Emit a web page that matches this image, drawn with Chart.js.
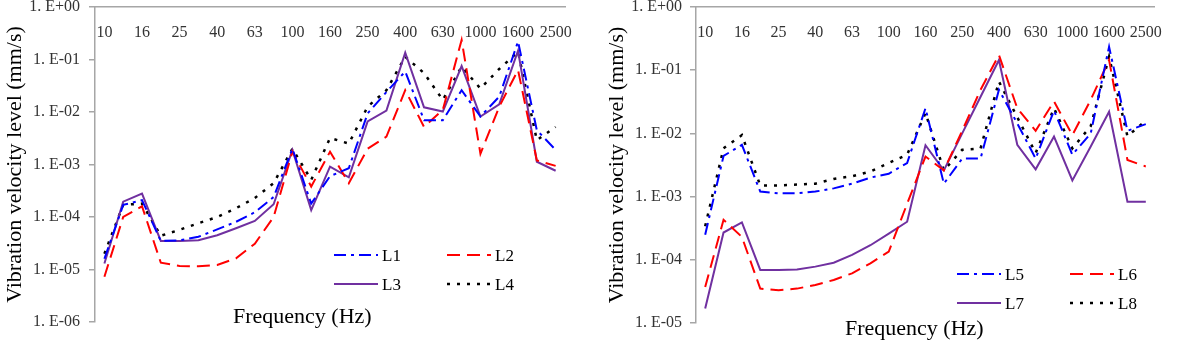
<!DOCTYPE html>
<html><head><meta charset="utf-8">
<script src="https://cdn.jsdelivr.net/npm/chart.js@4.4.0/dist/chart.umd.min.js"></script>
<style>
html,body{margin:0;padding:0;background:#fff;width:1178px;height:342px;overflow:hidden;font-family:'Liberation Serif','Times New Roman',serif;}
.panel{position:absolute;top:0;height:342px;}
.xt{position:absolute;font-size:22px;line-height:22px;color:#000;white-space:nowrap;}
.lg{position:absolute;font-size:17px;line-height:17px;display:flex;align-items:center;white-space:nowrap;color:#000;}
.lg svg{margin-right:4px;}
</style></head><body>
<div class="panel" style="left:0;width:588px"><canvas id="c1" width="588" height="342"></canvas></div>
<div class="panel" style="left:590px;width:588px"><canvas id="c2" width="588" height="342"></canvas></div>
<div class="xt" style="left:233px;top:305px">Frequency (Hz)</div>
<div class="xt" style="left:845px;top:317px">Frequency (Hz)</div>
<div id="legends"></div>
<script>
// ---- data ----
const frequencies = ['10','12.5','16','20','25','31.5','40','50','63','80','100','125','160','200','250','315','400','500','630','800','1000','1250','1600','2000','2500'];
const freqTickLabels = ['10','16','25','40','63','100','160','250','400','630','1000','1600','2500'];

const yTicksLeft = [1e-6,1e-5,1e-4,1e-3,1e-2,1e-1,1];
const yLabelsLeft = ['1. E-06','1. E-05','1. E-04','1. E-03','1. E-02','1. E-01','1. E+00'];
const yTicksRight = [1e-5,1e-4,1e-3,1e-2,1e-1,1];
const yLabelsRight = ['1. E-05','1. E-04','1. E-03','1. E-02','1. E-01','1. E+00'];

const L1 = [1.6e-5,1.7e-4,2.1e-4,3.5e-5,3.6e-5,4.2e-5,5.8e-5,8.1e-5,1.23e-4,2.4e-4,2.0e-3,1.8e-4,6.0e-4,8.5e-4,9.4e-3,2.4e-2,5.9e-2,7.0e-3,7.0e-3,2.6e-2,8.2e-3,1.96e-2,0.22,4.5e-3,1.9e-3];
const L2 = [7.3e-6,1.0e-4,1.6e-4,1.35e-5,1.17e-5,1.15e-5,1.22e-5,1.63e-5,3.1e-5,1.0e-4,1.75e-3,3.8e-4,1.75e-3,4.4e-4,2.0e-3,3.4e-3,2.6e-2,5.2e-3,1.1e-2,0.236,1.6e-3,1.26e-2,6.3e-2,1.2e-3,9.4e-4];
const L3 = [1.3e-5,1.96e-4,2.8e-4,3.5e-5,3.5e-5,3.6e-5,4.5e-5,6.1e-5,8.4e-5,1.75e-4,1.9e-3,1.35e-4,9.1e-4,5.7e-4,6.6e-3,1.06e-2,0.135,1.23e-2,1.02e-2,7.5e-2,8.2e-3,1.4e-2,0.147,1.13e-3,7.6e-4];
const L4 = [2.0e-5,1.7e-4,1.8e-4,4.4e-5,5.7e-5,7.6e-5,1.0e-4,1.47e-4,2.3e-4,4.4e-4,2.0e-3,5.1e-4,3.2e-3,2.5e-3,1.26e-2,2.6e-2,0.113,5.5e-2,1.7e-2,7.3e-2,2.8e-2,6.6e-2,0.14,2.9e-3,5.2e-3];

const L5 = [2.5e-4,4.4e-3,6.6e-3,1.2e-3,1.13e-3,1.13e-3,1.2e-3,1.35e-3,1.6e-3,2.0e-3,2.3e-3,3.4e-3,2.5e-2,1.6e-3,4.0e-3,4.0e-3,4.9e-2,1.44e-2,4.0e-3,2.3e-2,4.6e-3,1.0e-2,0.235,1.1e-2,1.4e-2];
const L6 = [3.7e-5,4.3e-4,2.3e-4,3.5e-5,3.3e-5,3.5e-5,4.0e-5,4.8e-5,6.1e-5,8.8e-5,1.35e-4,7.7e-4,4.3e-3,2.6e-3,1.1e-2,4.9e-2,0.174,2.5e-2,1.1e-2,3.2e-2,9.4e-3,3.4e-2,0.145,3.8e-3,3.0e-3];
const L7 = [1.7e-5,2.7e-4,3.9e-4,6.9e-5,6.9e-5,7.0e-5,7.8e-5,9.0e-5,1.2e-4,1.7e-4,2.6e-4,4.0e-4,6.5e-3,2.6e-3,1.0e-2,3.8e-2,0.145,6.6e-3,2.7e-3,8.9e-3,1.8e-3,6.2e-3,2.2e-2,8.3e-4,8.3e-4];
const L8 = [3.4e-4,5.8e-3,9.4e-3,1.5e-3,1.5e-3,1.55e-3,1.6e-3,1.9e-3,2.1e-3,2.5e-3,3.4e-3,4.6e-3,2.1e-2,2.6e-3,5.5e-3,5.8e-3,6.6e-2,1.8e-2,4.9e-3,2.5e-2,5.8e-3,1.3e-2,0.163,9.0e-3,1.6e-2];

// ---- styles ----
const BLUE = {color:'#0000FF', dash:[12,5,3,5], width:2};
const RED = {color:'#FF0000', dash:[13,7], width:2};
const PURPLE = {color:'#7030A0', dash:[], width:2};
const BLACK = {color:'#000000', dash:[3,7], width:2.5};

const FONT = "'Liberation Serif','Times New Roman',serif";
const AXIS_GRAY = '#A6A6A6';

function makeDatasets(list){
  return list.map(([label, data, st]) => ({
    label, data, borderColor: st.color, backgroundColor: st.color,
    borderDash: st.dash, borderWidth: st.width, pointRadius: 0, tension: 0, fill:false
  }));
}

function makeChart(id, series, yTicks, yLabels, g){
  const yMax = yTicks[yTicks.length-1];
  return new Chart(document.getElementById(id), {
    type:'line',
    data:{labels: frequencies, datasets: makeDatasets(series)},
    options:{
      responsive:false, animation:false,
      layout:{padding:{left:0, top:7, right:g.padRight, bottom:g.padBottom}},
      plugins:{legend:{display:false}, tooltip:{enabled:false}},
      scales:{
        x:{
          type:'category', position:{y:yMax}, offset:true,
          grid:{display:false, drawTicks:false},
          border:{display:true, color:AXIS_GRAY, width:1.5},
          ticks:{autoSkip:false, maxRotation:0, minRotation:0, padding:16,
                 color:'#333', font:{family:FONT, size:16},
                 callback:(v,i)=> i%2===0 ? freqTickLabels[i/2] : ''}
        },
        y:{
          type:'logarithmic', position:'left',
          min:yTicks[0], max:yMax,
          afterBuildTicks:(s)=>{ s.ticks = yTicks.map(v=>({value:v, major:true})); },
          afterFit:(s)=>{ s.width = g.yWidth; s.paddingTop = 0; s.paddingBottom = 0; },
          grid:{display:true, drawOnChartArea:false, drawTicks:true, tickLength:6, color:AXIS_GRAY, lineWidth:1.5},
          border:{display:true, color:AXIS_GRAY, width:1.5},
          ticks:{padding:g.labelPad, color:'#333', font:{family:FONT, size:16},
                 callback:(v)=>{ const k = yTicks.findIndex(t=>Math.abs(Math.log10(t)-Math.log10(v))<1e-6); return k>=0 ? yLabels[k] : ''; }},
          title:{display:true, text:'Vibration velocity level (mm/s)', color:'#000',
                 font:{family:FONT, size:22}, padding:{top:g.titlePad, bottom:0}}
        }
      }
    }
  });
}

const leftSeries = [['L1',L1,BLUE],['L2',L2,RED],['L3',L3,PURPLE],['L4',L4,BLACK]];
const rightSeries = [['L5',L5,BLUE],['L6',L6,RED],['L7',L7,PURPLE],['L8',L8,BLACK]];

makeChart('c1', leftSeries, yTicksLeft, yLabelsLeft, {padRight:18, padBottom:20, yWidth:95, labelPad:9, titlePad:2});
makeChart('c2', rightSeries, yTicksRight, yLabelsRight, {padRight:10, padBottom:19, yWidth:106, labelPad:8, titlePad:14});

// ---- legends (HTML, built from the series definitions) ----
function legend(series, cols, rows){
  const host = document.getElementById('legends');
  series.forEach(([label,, st], i) => {
    const d = document.createElement('div');
    d.className = 'lg';
    const cx = cols[i%2], cy = rows[Math.floor(i/2)];
    d.style.left = cx + 'px'; d.style.top = (cy - 9) + 'px';
    d.innerHTML = `<svg width="44" height="18"><line x1="0" y1="9" x2="44" y2="9" stroke="${st.color}" stroke-width="${st.width}" stroke-dasharray="${st.dash.join(',')}"/></svg>${label}`;
    host.appendChild(d);
  });
}
legend(leftSeries, [334, 447], [255, 284]);
legend(rightSeries, [957, 1070], [274, 303]);
</script>
</body></html>
